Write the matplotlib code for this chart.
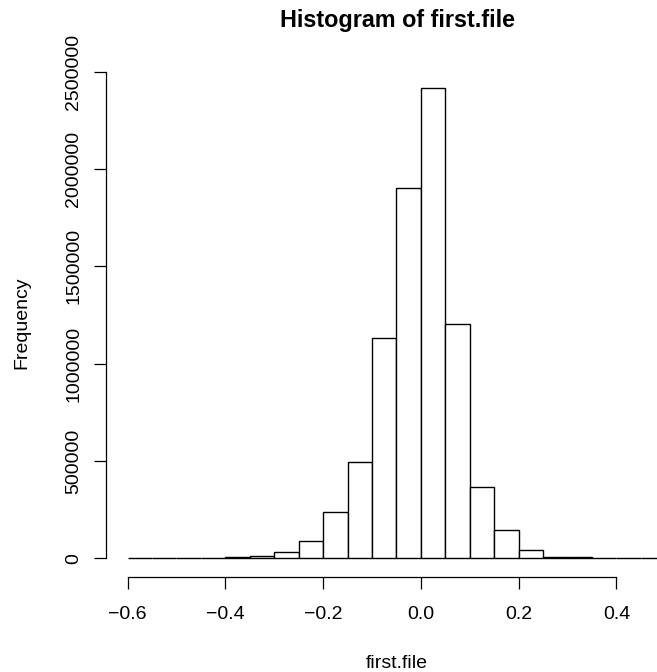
import matplotlib
matplotlib.use("Agg")
import matplotlib.pyplot as plt

plt.rcParams['font.family'] = ['Liberation Sans', 'DejaVu Sans']

breaks = [-0.60, -0.55, -0.50, -0.45, -0.40, -0.35, -0.30, -0.25, -0.20, -0.15,
          -0.10, -0.05, 0.00, 0.05, 0.10, 0.15, 0.20, 0.25, 0.30, 0.35,
          0.40, 0.45, 0.50]
counts = [500, 1000, 1500, 2500, 5000, 12000, 35000, 89000, 241000, 495000,
          1130000, 1902000, 2418000, 1202000, 369000, 145000, 43000, 10000, 5000, 3000,
          1500, 1000]
x_ticks = [-0.6, -0.4, -0.2, 0.0, 0.2, 0.4]
x_tick_labels = ["\u22120.6", "\u22120.4", "\u22120.2", "0.0", "0.2", "0.4"]
y_ticks = [0, 500000, 1000000, 1500000, 2000000, 2500000]
y_tick_labels = ["0", "500000", "1000000", "1500000", "2000000", "2500000"]

W, H = 657, 672
dpi = 100
fig = plt.figure(figsize=(W / dpi, H / dpi), dpi=dpi)
fig.patch.set_facecolor('white')

ax = fig.add_axes([106.0 / W, (H - 577.3) / H, 580.9 / W, (577.3 - 68.7) / H])

lefts = breaks[:-1]
widths = [breaks[i + 1] - breaks[i] for i in range(len(lefts))]
ax.bar(lefts, counts, width=widths, align='edge', facecolor='white',
       edgecolor='black', linewidth=1.0, clip_on=False)

xr = breaks[-1] - breaks[0]
ax.set_xlim(breaks[0] - 0.04 * xr, breaks[-1] + 0.04 * xr)
ymax = max(counts)
ax.set_ylim(-0.04 * ymax, 1.04 * ymax)

for s in ['top', 'right']:
    ax.spines[s].set_visible(False)
ax.spines['left'].set_bounds(y_ticks[0], y_ticks[-1])
ax.spines['bottom'].set_bounds(x_ticks[0], x_ticks[-1])
for s in ['left', 'bottom']:
    ax.spines[s].set_linewidth(0.9)

ax.set_xticks(x_ticks)
ax.set_xticklabels(x_tick_labels)
ax.set_yticks(y_ticks)
ax.set_yticklabels(y_tick_labels, rotation=90, va='center')
ax.tick_params(axis='both', direction='out', length=8.5, width=0.9,
               labelsize=14, colors='black')
ax.tick_params(axis='x', pad=12.5)
ax.tick_params(axis='y', pad=8.5)

fig.text(397.5 / W, 1 - 27 / H, "Histogram of first.file", ha='center', va='baseline',
         fontsize=16.8, fontweight='bold')
fig.text(396.5 / W, 1 - 667.5 / H, "first.file", ha='center', va='baseline', fontsize=14)
fig.text(22 / W, 1 - 322.5 / H, "Frequency", ha='center', va='center',
         rotation=90, fontsize=14)

fig.savefig("out.png", dpi=dpi)
